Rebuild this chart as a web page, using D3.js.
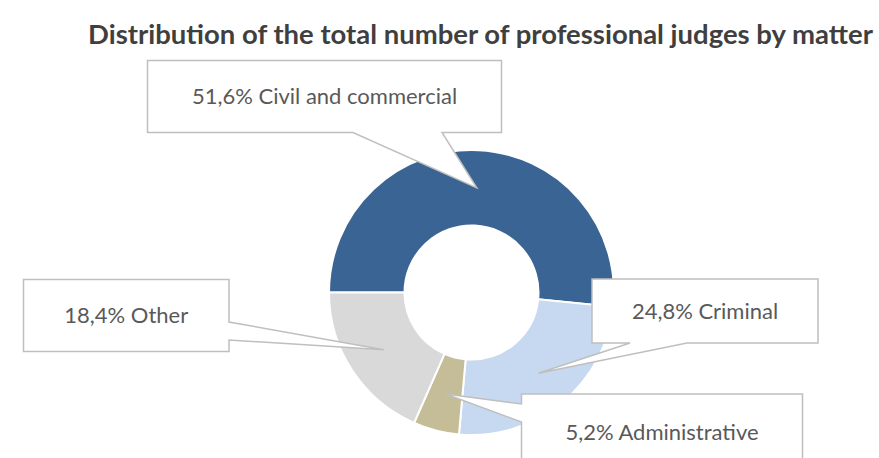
<!DOCTYPE html>
<html>
<head>
<meta charset="utf-8">
<script src="https://cdn.jsdelivr.net/npm/d3@7"></script>
<style>
  html, body { margin: 0; padding: 0; background: #ffffff; }
  svg { display: block; }
</style>
</head>
<body>
<svg id="chart" width="879" height="458"></svg>
<script>
// ---- data ----
const title = "Distribution of the total number of professional judges by matter";
const categories = ["Civil and commercial", "Criminal", "Administrative", "Other"];
const shares = [51.6, 24.8, 5.2, 18.4];
const colors = ["#3A6494", "#C6D9F0", "#C4BD97", "#D9D9D9"];

// ---- layout ----
const W = 879, H = 458;
const cx = 471.5, cy = 292.5, rOuter = 142.5, rInner = 67;
// callout boxes (manually placed, like in the original)
const boxes = [
  { x: 147.5, y: 60.5, w: 354, h: 72, edge: "bottom", b0: 353, b1: 442 },
  { x: 592, y: 279, w: 226, h: 64, edge: "bottom", b0: 630, b1: 687 },
  { x: 521.5, y: 394, w: 281, h: 76, edge: "left", b0: 404, b1: 422 },
  { x: 23.5, y: 279.5, w: 205.5, h: 72, edge: "right", b0: 322, b1: 340 }
];

const svg = d3.select("#chart");
svg.append("rect").attr("width", W).attr("height", H).attr("fill", "#fff");

const titleText = svg.append("text")
  .attr("x", 480.5).attr("y", 44)
  .attr("text-anchor", "middle")
  .attr("font-family", "Lato, 'Open Sans', sans-serif")
  .attr("font-weight", "bold")
  .attr("font-size", 24)
  .attr("fill", "#3F3F3F")
  .text(title);
// fit title to its width in the original layout
const tw = titleText.node().getComputedTextLength();
titleText.attr("font-size", 24 * 785 / tw);

const pie = d3.pie().sort(null).value(d => d)
  .startAngle(-Math.PI / 2).endAngle(3 * Math.PI / 2);
const arcs = pie(shares);
const arc = d3.arc().innerRadius(rInner).outerRadius(rOuter);

const g = svg.append("g").attr("transform", `translate(${cx},${cy})`);
g.selectAll("path").data(arcs).join("path")
  .attr("d", arc)
  .attr("fill", (d, i) => colors[i])
  .attr("stroke", "#fff")
  .attr("stroke-width", 2);

const fmt = v => v.toFixed(1).replace(".", ",") + "%";

function calloutPath(b, tip) {
  const x0 = b.x, y0 = b.y, x1 = b.x + b.w, y1 = b.y + b.h;
  const p = d3.path();
  p.moveTo(x0, y0);
  p.lineTo(x1, y0);
  if (b.edge === "right") { p.lineTo(x1, b.b0); p.lineTo(tip[0], tip[1]); p.lineTo(x1, b.b1); }
  p.lineTo(x1, y1);
  if (b.edge === "bottom") { p.lineTo(b.b1, y1); p.lineTo(tip[0], tip[1]); p.lineTo(b.b0, y1); }
  p.lineTo(x0, y1);
  if (b.edge === "left") { p.lineTo(x0, b.b1); p.lineTo(tip[0], tip[1]); p.lineTo(x0, b.b0); }
  p.closePath();
  return p.toString();
}

arcs.forEach((d, i) => {
  const c = arc.centroid(d);
  const tip = [cx + c[0], cy + c[1]];
  const b = boxes[i];
  svg.append("path")
    .attr("d", calloutPath(b, tip))
    .attr("fill", "#fff")
    .attr("stroke", "#BFBFBF")
    .attr("stroke-width", 1.5)
    .attr("stroke-linejoin", "miter");
  svg.append("text")
    .attr("x", b.x + b.w / 2)
    .attr("y", b.y + b.h / 2)
    .attr("dy", "0.36em")
    .attr("text-anchor", "middle")
    .attr("font-family", "Lato, 'Open Sans', sans-serif")
    .attr("font-size", 22)
    .attr("fill", "#595959")
    .text(fmt(d.data) + " " + categories[i]);
});
</script>
</body>
</html>
